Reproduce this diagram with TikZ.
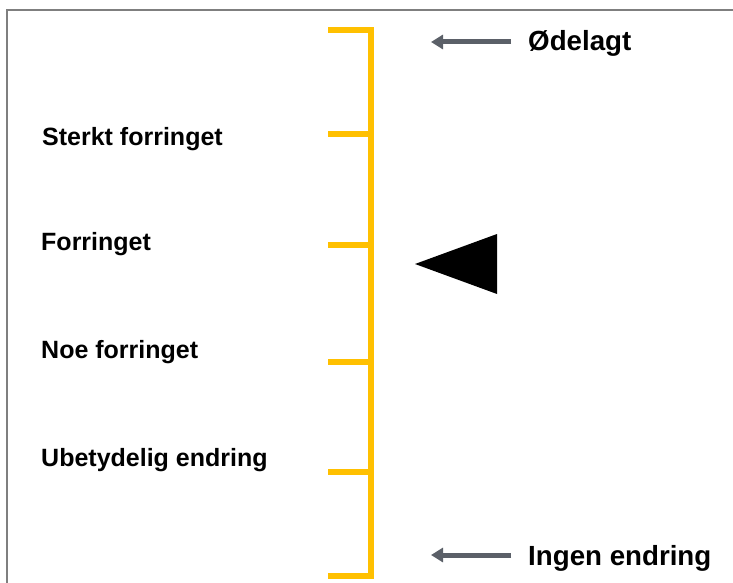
\documentclass[tikz,border=0pt]{standalone}
\usepackage{fontspec}
\setmainfont{Liberation Sans}
\usetikzlibrary{arrows.meta}
\definecolor{scaleyellow}{HTML}{FFC000}
\definecolor{framegray}{HTML}{7F7F7F}
\definecolor{pilgray}{HTML}{5B6068}
\begin{document}
\begin{tikzpicture}[x=1pt, y=-1pt, lbl/.style={anchor=base west, inner sep=0, font=\fontsize{25}{30}\selectfont\bfseries}, tag/.style={anchor=base west, inner sep=0, font=\fontsize{27.7}{32}\selectfont\bfseries}, tick/.style={draw=scaleyellow, line width=6pt}, pil/.style={draw=pilgray, line width=5pt, -{Triangle[length=12pt, width=14pt]}}]
		\useasboundingbox (0,0) rectangle (733,583);
		\draw[framegray, line width=2pt] (7,583) -- (7,10) -- (733,10);

		% scale
		\coordinate (top) at (371,30);
		\coordinate (bot) at (371,576);
		\draw[tick, line join=miter] (328,30) -- (top) -- (bot) -- (328,576);
		\foreach \y in {134, 245, 362, 472}
			\draw[tick] (328,\y) -- (371,\y);

		\node[lbl] (sterkt) at (42,145) {Sterkt forringet};
		\node[lbl] (forr) at (41,250) {Forringet};
		\node[lbl] (noe) at (41,358) {Noe forringet};
		\node[lbl] (ubet) at (41,466) {Ubetydelig endring};

		% ends
		\coordinate (o_from) at (511,42);
		\coordinate (o_to) at (431,42);
		\coordinate (i_from) at (511,555);
		\coordinate (i_to) at (431,555);
		\draw[pil] (o_from) -- (o_to);
		\draw[pil] (i_from) -- (i_to);
		\node[tag] (odelagt) at (528,51) {Ødelagt};
		\node[tag] (ingen) at (528,565) {Ingen endring};

		% marker
		\fill (415,264) -- (497,234) -- (497,294) -- cycle;
	\end{tikzpicture}
\end{document}
